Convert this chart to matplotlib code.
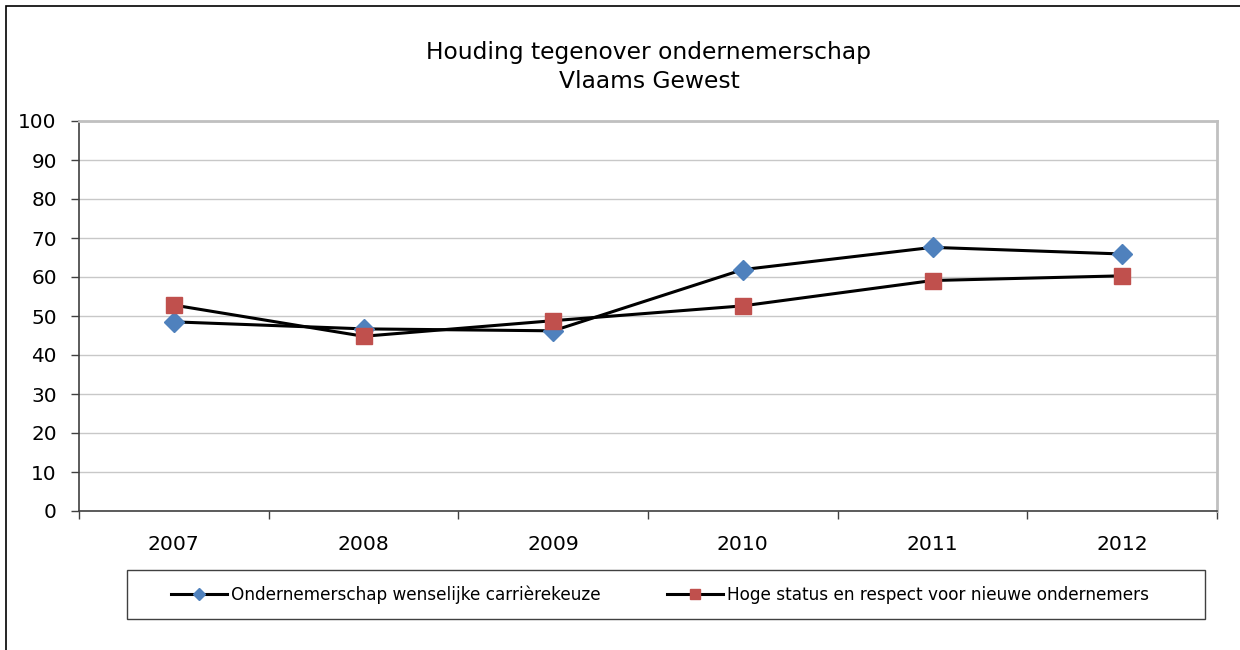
import matplotlib
matplotlib.use("Agg")
import matplotlib.pyplot as plt
from matplotlib.patches import Rectangle
import numpy as np

years = ["2007", "2008", "2009", "2010", "2011", "2012"]
carriere = [48.5, 46.7, 46.2, 61.9, 67.6, 65.9]
status = [52.8, 44.8, 48.8, 52.6, 59.1, 60.3]
labels = ["Ondernemerschap wenselijke carrièrekeuze",
          "Hoge status en respect voor nieuwe ondernemers"]
title_lines = ["Houding tegenover ondernemerschap", "Vlaams Gewest"]

W, H = 1240, 650
fig = plt.figure(figsize=(W / 100, H / 100), dpi=100)
plt.rcParams['font.family'] = ['DejaVu Sans']

def fx(px):
    return px / W

def fy(py):
    return 1 - py / H

ax = fig.add_axes([fx(79), fy(511), fx(1217) - fx(79), fy(121) - fy(511)])
x = np.arange(len(years))
l1, = ax.plot(x, carriere, color='black', lw=2.2, marker='D', ms=10,
              mfc='#4f81bd', mec='#4f81bd', zorder=3)
l2, = ax.plot(x, status, color='black', lw=2.2, marker='s', ms=11,
              mfc='#c0504d', mec='#c0504d', zorder=3)

ax.set_xlim(-0.5, len(years) - 0.5)
ax.set_ylim(0, 100)
ax.set_yticks(np.arange(0, 101, 10))
ax.yaxis.grid(True, color='#c8c8c8', lw=1)
ax.set_axisbelow(True)
ax.set_xticks(x)
ax.set_xticklabels(years)
ax.set_xticks(np.arange(-0.5, len(years), 1), minor=True)
ax.tick_params(axis='x', which='major', length=0, pad=17, labelsize=14.6)
ax.tick_params(axis='x', which='minor', length=6, width=1, color='#404040', direction='out')
ax.tick_params(axis='y', length=6, width=1, color='#404040', pad=10, labelsize=14.4)
for s in ['left', 'bottom']:
    ax.spines[s].set_color('#404040')
    ax.spines[s].set_linewidth(1.2)
for s in ['top', 'right']:
    ax.spines[s].set_color('#c0c0c0')
    ax.spines[s].set_linewidth(2)

fig.text(fx(649), fy(52), title_lines[0], ha='center', va='center', fontsize=16.8)
fig.text(fx(649), fy(82), title_lines[1], ha='center', va='center', fontsize=16.8)

# outer chart border
fig.patches.append(Rectangle((fx(6), -0.05), 1.1, fy(6) + 0.05, transform=fig.transFigure,
                             fill=False, ec='black', lw=1.2))
# legend box
fig.patches.append(Rectangle((fx(127), fy(619)), fx(1205) - fx(127), fy(570) - fy(619),
                             transform=fig.transFigure, fill=False, ec='#404040', lw=1))
fig.legend([l1, l2], labels, loc='center', bbox_to_anchor=(fx(660), fy(595)),
           ncol=2, frameon=False, fontsize=12.2, handlelength=3.3, handletextpad=0.25,
           columnspacing=3.9, markerscale=0.6)

fig.savefig("out.png", dpi=100)
